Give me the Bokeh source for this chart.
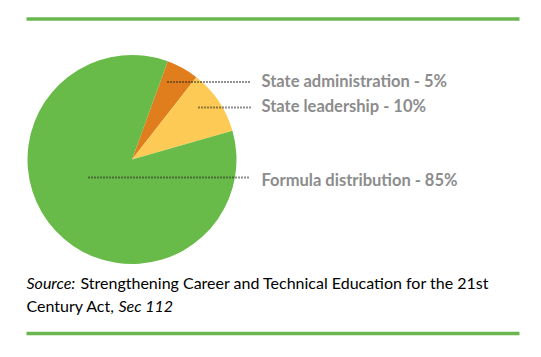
import math
from bokeh.plotting import figure
from bokeh.models import Range1d, ColumnDataSource
from bokeh.core.properties import value
from bokeh.embed import file_html
from bokeh.resources import INLINE

# ---- data ----
categories = ["State administration", "State leadership", "Formula distribution"]
shares = [5, 10, 85]
colors = ["#e07e1e", "#fdcb55", "#68bb48"]
labels = ["State administration - 5%", "State leadership - 10%", "Formula distribution - 85%"]

W, H = 541, 357
p = figure(width=W, height=H, output_backend="svg", toolbar_location=None,
           x_range=Range1d(0, W), y_range=Range1d(0, H), min_border=0)
p.axis.visible = False
p.grid.visible = False
p.outline_line_color = None
p.background_fill_color = "white"
p.border_fill_color = "white"

def Y(py):
    return H - py

# pie: slices go clockwise starting at 70 degrees
cx, cy, r = 131.5, Y(159), 104.5
start_deg = 70.0
starts, ends = [], []
cur = start_deg
for v in shares:
    span = v / sum(shares) * 360.0
    ends.append(math.radians(cur))
    starts.append(math.radians(cur - span))
    cur -= span
src = ColumnDataSource(dict(cat=categories, start=starts, end=ends, color=colors))
p.wedge(x=cx, y=cy, radius=r, start_angle="start", end_angle="end",
        fill_color="color", line_color=None, source=src)

# leader lines
line_x0 = [167, 198, 88]
line_y = [81.5, 107, 177]
for x0, yy in zip(line_x0, line_y):
    p.line([x0, 250], [Y(yy), Y(yy)], line_color="#222222", line_width=2, line_dash="1 2")

p.text(x=[261] * 3, y=[Y(v) for v in [80.5, 105, 179]], text=labels,
       text_font=value("Lato"), text_font_style="bold", text_font_size="16.5px",
       text_color="#8c8c8c", text_baseline="middle")

# rules
p.line([26, 519], [Y(18.5), Y(18.5)], line_color="#6ab74f", line_width=3.5)
p.line([26, 519], [Y(333), Y(333)], line_color="#6ab74f", line_width=3.5)

# source note
fs = "16px"
p.text(x=[26], y=[Y(282)], text=["Source:"], text_font=value("Lato"), text_font_style="italic",
       text_font_size=fs, text_color="#000000", text_baseline="middle")
p.text(x=[80], y=[Y(282)], text=["Strengthening Career and Technical Education for the 21st"],
       text_font=value("Lato"), text_font_size=fs, text_color="#000000", text_baseline="middle")
p.text(x=[26], y=[Y(305)], text=["Century Act,"], text_font=value("Lato"),
       text_font_size=fs, text_color="#000000", text_baseline="middle")
p.text(x=[118], y=[Y(305)], text=["Sec 112"], text_font=value("Lato"), text_font_style="italic",
       text_font_size=fs, text_color="#000000", text_baseline="middle")

open("out.html", "w").write(file_html(p, INLINE))
